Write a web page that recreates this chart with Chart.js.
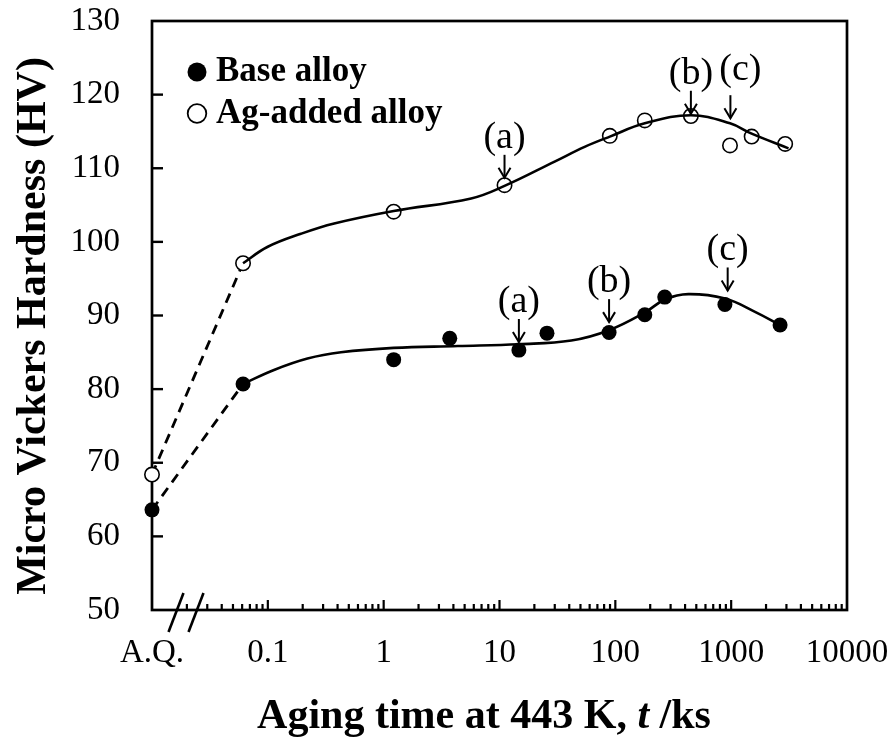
<!DOCTYPE html>
<html>
<head>
<meta charset="utf-8">
<script src="https://cdn.jsdelivr.net/npm/chart.js@4/dist/chart.umd.min.js"></script>
<style>
html,body{margin:0;padding:0;background:#fff;}
#wrap{width:896px;height:742px;position:relative;}
</style>
</head>
<body>
<div id="wrap"><canvas id="c" width="896" height="742"></canvas></div>
<script>
// ---------------- data ----------------
const seriesNames = ['Base alloy', 'Ag-added alloy'];

// measured points (first value = as-quenched, A.Q.)
const baseX = [0.01, 0.0611, 1.22, 3.72, 14.7, 25.7, 88.3, 179.6, 267, 883, 2644];
const baseY = [63.6, 80.7, 84.0, 86.9, 85.3, 87.6, 87.7, 90.1, 92.5, 91.5, 88.7];
const agX   = [0.01, 0.0611, 1.22, 11.05, 89.6, 179.6, 449, 977, 1503, 2925];
const agY   = [68.4, 97.1, 104.1, 107.7, 114.4, 116.5, 117.1, 113.1, 114.3, 113.3];

// guide curves
const baseFitX = [0.0611, 0.113, 0.22, 0.428, 1.22, 4.37, 14.7, 41.7, 88.3, 179.6, 270, 427, 883, 1607, 2644];
const baseFitY = [80.7, 82.6, 84.15, 85.0, 85.6, 85.85, 86.1, 86.6, 88.0, 90.4, 92.2, 92.9, 92.3, 90.5, 88.7];
const agFitX = [0.0611, 0.099, 0.193, 0.374, 1.22, 5.69, 11.05, 29.9, 54.3, 89.6, 179.6, 449, 977, 1503, 3126];
const agFitY = [97.1, 99.3, 101.1, 102.5, 104.2, 105.9, 107.6, 110.9, 112.9, 114.3, 116.1, 117.2, 116.1, 114.7, 112.7];

// axis ticks
const xTickValues = [0.01, 0.1, 1, 10, 100, 1000, 10000];
const xTickLabels = ['A.Q.', '0.1', '1', '10', '100', '1000', '10000'];
const yTickMin = 50, yTickMax = 130, yTickStep = 10;

// annotations: arrow tip at (x, y)
const annX    = [11.05, 449, 985, 14.7, 88.3, 933];
const annY    = [108.7, 117.4, 116.8, 86.4, 89.1, 93.4];
const annText = ['(a)', '(b)', '(c)', '(a)', '(b)', '(c)'];

// axis titles
const xTitleParts = ['Aging time at 443 K, ', 't', ' /ks'];
const yTitle = 'Micro Vickers Hardness (HV)';

// ---------------- helpers ----------------
const pts = (xs, ys) => xs.map((x, i) => ({x: x, y: ys[i]}));
const SERIF = '"Liberation Serif", "Times New Roman", Times, serif';

// styles kept separate from data
const annOffsets = [[0,0],[0,0],[10,-8],[0,0],[0,0],[0,0]]; // text dx, dy

const framePlugin = {
  id: 'frame',
  beforeDatasetsDraw(chart) {
    const {ctx, chartArea: ca, scales} = chart;
    const xs = scales.x, ys = scales.y;
    ctx.save();
    ctx.strokeStyle = '#000';
    ctx.lineWidth = 2.7;
    ctx.lineCap = 'butt';
    ctx.strokeRect(ca.left, ca.top, ca.right - ca.left, ca.bottom - ca.top);
    ctx.lineWidth = 2.4;
    // y ticks inward
    for (let v = yTickMin + yTickStep; v < yTickMax; v += yTickStep) {
      const py = ys.getPixelForValue(v);
      ctx.beginPath(); ctx.moveTo(ca.left, py); ctx.lineTo(ca.left + 11, py); ctx.stroke();
    }
    // x ticks inward (major + minor)
    ctx.lineWidth = 2.2;
    for (let d = -2; d <= 3; d++) {
      const base = Math.pow(10, d);
      for (let k = 1; k <= 9; k++) {
        const v = k * base;
        if (v <= xs.min || v >= xs.max) continue;
        const px = xs.getPixelForValue(v);
        const len = k === 1 ? 10 : 6;
        ctx.beginPath(); ctx.moveTo(px, ca.bottom); ctx.lineTo(px, ca.bottom - len); ctx.stroke();
      }
    }
    // axis break marks
    ctx.lineWidth = 2.6;
    [0, 20].forEach(off => {
      ctx.beginPath();
      ctx.moveTo(ca.left + 16.5 + off, ca.bottom + 22);
      ctx.lineTo(ca.left + 31.5 + off, ca.bottom - 17);
      ctx.stroke();
    });
    ctx.restore();
  }
};

const decoPlugin = {
  id: 'deco',
  afterDatasetsDraw(chart) {
    const {ctx, chartArea: ca, scales} = chart;
    const xs = scales.x, ys = scales.y;
    ctx.save();
    ctx.fillStyle = '#000';
    ctx.strokeStyle = '#000';
    // annotations
    ctx.font = '38px ' + SERIF;
    ctx.textAlign = 'center';
    ctx.textBaseline = 'alphabetic';
    annX.forEach((xv, i) => {
      const px = xs.getPixelForValue(xv);
      const tip = ys.getPixelForValue(annY[i]);
      const top = tip - 23;
      ctx.lineWidth = 2;
      ctx.beginPath(); ctx.moveTo(px, top); ctx.lineTo(px, tip); ctx.stroke();
      ctx.beginPath(); ctx.moveTo(px - 6, tip - 10); ctx.lineTo(px, tip); ctx.lineTo(px + 6, tip - 10); ctx.stroke();
      const [dx, dy] = annOffsets[i];
      ctx.fillText(annText[i], px + dx, top - 7 + dy);
    });
    // legend
    const lx = ca.left + 45;
    const ly1 = ca.top + 51, ly2 = ca.top + 92.5;
    ctx.beginPath(); ctx.arc(lx, ly1, 9.5, 0, Math.PI * 2); ctx.fill();
    ctx.lineWidth = 1.8;
    ctx.beginPath(); ctx.arc(lx, ly2, 9.3, 0, Math.PI * 2);
    ctx.fillStyle = '#fff'; ctx.fill(); ctx.stroke();
    ctx.fillStyle = '#000';
    ctx.font = 'bold 35px ' + SERIF;
    ctx.textAlign = 'left';
    ctx.fillText(seriesNames[0], lx + 19, ly1 + 8.5);
    ctx.fillText(seriesNames[1], lx + 19, ly2 + 9.5);
    ctx.restore();
  },
  afterDraw(chart) {
    const {ctx} = chart;
    ctx.save();
    ctx.fillStyle = '#000';
    ctx.textBaseline = 'alphabetic';
    // x title with italic t
    const fonts = ['bold 42px ' + SERIF, 'italic bold 42px ' + SERIF, 'bold 42px ' + SERIF];
    let total = 0;
    const widths = xTitleParts.map((s, i) => { ctx.font = fonts[i]; const w = ctx.measureText(s).width; total += w; return w; });
    let x = 484 - total / 2;
    ctx.textAlign = 'left';
    xTitleParts.forEach((s, i) => { ctx.font = fonts[i]; ctx.fillText(s, x, 728); x += widths[i]; });
    // y title
    ctx.translate(45, 326);
    ctx.rotate(-Math.PI / 2);
    ctx.font = 'bold 42px ' + SERIF;
    ctx.textAlign = 'center';
    ctx.fillText(yTitle, 0, 0);
    ctx.restore();
  }
};

const ctx = document.getElementById('c').getContext('2d');
new Chart(ctx, {
  type: 'line',
  data: {
    datasets: [
      // guide curves (top)
      { label: seriesNames[0] + ' fit', data: pts(baseFitX, baseFitY), borderColor: '#000', borderWidth: 2.6,
        pointRadius: 0, tension: 0.4, fill: false, order: 1, clip: false },
      { label: seriesNames[1] + ' fit', data: pts(agFitX, agFitY), borderColor: '#000', borderWidth: 2.6,
        pointRadius: 0, tension: 0.4, fill: false, order: 1, clip: false },
      // markers
      { label: seriesNames[0], data: pts(baseX, baseY), showLine: false, pointStyle: 'circle', pointRadius: 7.5,
        pointBackgroundColor: '#000', pointBorderColor: '#000', pointBorderWidth: 0, order: 2, clip: false },
      { label: seriesNames[1], data: pts(agX, agY), showLine: false, pointStyle: 'circle', pointRadius: 7.2,
        pointBackgroundColor: '#fff', pointBorderColor: '#000', pointBorderWidth: 1.6, order: 2, clip: false },
      // dashed A.Q. links (bottom)
      { label: seriesNames[0] + ' AQ', data: pts(baseX.slice(0, 2), baseY.slice(0, 2)), borderColor: '#000',
        borderWidth: 2.8, borderDash: [10, 7], pointRadius: 0, tension: 0, order: 3, clip: false },
      { label: seriesNames[1] + ' AQ', data: pts(agX.slice(0, 2), agY.slice(0, 2)), borderColor: '#000',
        borderWidth: 2.8, borderDash: [10, 7], pointRadius: 0, tension: 0, order: 3, clip: false }
    ]
  },
  options: {
    responsive: false,
    animation: false,
    layout: { padding: { top: 21, right: 49, bottom: 0, left: 0 } },
    plugins: { legend: { display: false }, tooltip: { enabled: false }, title: { display: false } },
    scales: {
      x: {
        type: 'logarithmic', position: 'bottom', min: xTickValues[0], max: xTickValues[xTickValues.length - 1],
        grid: { display: false, drawTicks: true, tickLength: 24 }, border: { display: false },
        ticks: { color: '#000', font: { family: SERIF, size: 33 }, padding: 0, autoSkip: false, maxRotation: 0,
          callback: (v, i) => xTickLabels[i] },
        afterBuildTicks: s => { s.ticks = xTickValues.map(v => ({ value: v })); },
        afterFit: s => { s.height = 132; }
      },
      y: {
        min: yTickMin, max: yTickMax,
        grid: { display: false, drawTicks: true, tickLength: 32 }, border: { display: false },
        ticks: { stepSize: yTickStep, color: '#000', font: { family: SERIF, size: 33 }, padding: 0 },
        afterFit: s => { s.width = 152; }
      }
    }
  },
  plugins: [framePlugin, decoPlugin]
});
</script>
</body>
</html>
